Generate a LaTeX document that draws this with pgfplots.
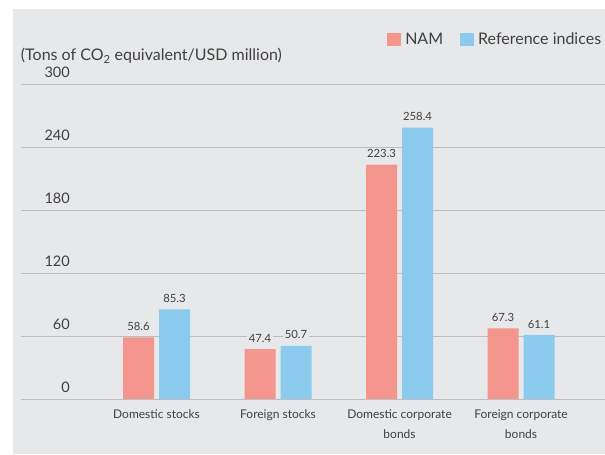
\documentclass[border=0pt]{standalone}
\usepackage{fontspec}
\setmainfont{Lato}
\usepackage{pgfplots}
\pgfplotsset{compat=1.18}
\definecolor{bg}{HTML}{E7E8EA}
\definecolor{nam}{HTML}{F4968D}
\definecolor{refi}{HTML}{8BCBEE}
\definecolor{gridc}{HTML}{BDBEC0}
\definecolor{txt}{HTML}{404040}
\begin{document}
\begin{tikzpicture}
\useasboundingbox (0,0) rectangle (605pt,455pt);
\fill[white] (0,0) rectangle (605pt,455pt);
\fill[bg] (13pt,1pt) rectangle (605pt,446pt);
\begin{axis}[
  at={(20.7pt,56pt)}, anchor=south west,
  scale only axis, width=584.3pt, height=315pt,
  xmin=-1.118, xmax=3.691, ymin=0, ymax=300,
  ybar=5pt, bar width=31pt,
  axis line style={draw=none},
  tick style={draw=none},
  ymajorgrids, major grid style={gridc, line width=0.9pt},
  ytick={0,60,...,300},
  /pgf/number format/assume math mode=true,
  yticklabel style={font=\fontsize{14.5}{16}\selectfont, text=txt, inner sep=0pt, anchor=south east, xshift=49.3pt, yshift=6pt},
  xtick={0,1,2,3},
  xticklabels={Domestic stocks, Foreign stocks, {Domestic corporate\\bonds}, {Foreign corporate\\bonds}},
  xticklabel style={font=\fontsize{12}{20}\selectfont, text=txt, inner sep=0pt, anchor=north, align=center, yshift=-6pt},
  nodes near coords, point meta=explicit symbolic,
  every node near coord/.append style={font=\fontsize{11.3}{13}\selectfont, text=txt, fill=bg, inner sep=1.5pt, anchor=south, yshift=5pt},
  legend style={draw=none, fill=none, legend columns=2, at={(0.627,1.141)}, anchor=west, inner sep=0pt,
    font=\fontsize{16}{18}\selectfont, text=txt,
    /tikz/every even column/.append style={column sep=15pt}},
  legend image code/.code={\fill[#1,draw=none] (0pt,-6.5pt) rectangle (14pt,6.5pt); \path (16pt,0pt);},
  clip=false,
]
\addplot[fill=nam, draw=none] coordinates {(0,58.6) [58.6] (1,47.4) [47.4] (2,223.3) [223.3] (3,67.3) [67.3]};
\addplot[fill=refi, draw=none] coordinates {(0,85.3) [85.3] (1,50.7) [50.7] (2,258.4) [258.4] (3,61.1) [61.1]};
\legend{NAM, Reference indices}
\node[anchor=west, inner sep=0pt, font=\fontsize{16}{18}\selectfont, text=txt] at (rel axis cs:0,1.09) {(Tons of CO\textsubscript{2} equivalent/USD million)};
\end{axis}
\end{tikzpicture}
\end{document}
